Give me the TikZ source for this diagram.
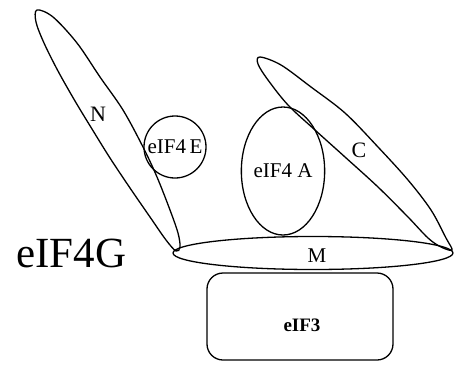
\documentclass[tikz,border=0pt]{standalone}
\usepackage{fontspec}
\setmainfont{Liberation Serif}
\usetikzlibrary{shapes.geometric}
\begin{document}
\begin{tikzpicture}[x=1pt,y=-1pt,
  outline/.style={draw=black, line width=1.3pt, inner sep=0pt},
  lbl/.style={font=\fontsize{21}{21}\selectfont, inner sep=0pt},
  biglbl/.style={font=\fontsize{43}{43}\selectfont, inner sep=0pt}]
\useasboundingbox[fill=white] (0,0) rectangle (456,365);
% N domain
\draw[outline, smooth cycle, tension=0.55] plot coordinates {
  (37,10) (53,17) (77,43) (100,77) (123,110) (143,147) (157,177) (170,210)
  (178,233) (180,247) (176,251) (166,240) (150,217) (130,188) (110,158)
  (92,129) (75,101) (58,71) (44,43) (36,22)};
\node[lbl, font=\fontsize{22}{22}\selectfont] (nlab) at (98,114) {N};
% eIF4E
\node[outline, circle, minimum size=62pt, lbl] (e4e) at (175,147) {eIF4\,E};
% eIF4A
\node[outline, ellipse, minimum width=72pt, minimum height=128pt, lbl] (e4a) at (283,171) {eIF4 A};
% C domain
\draw[outline, smooth cycle, tension=0.55] plot coordinates {
  (260,57) (281,65) (311,87) (345,113) (378,147) (408,180) (431,210)
  (446,238) (452,250) (441,247) (428,238) (408,217) (378,187) (345,157)
  (315,130) (288,105) (268,80) (258,64)};
\node[lbl, font=\fontsize{22}{22}\selectfont] (clab) at (359,150) {C};
% M domain
\node[outline, ellipse, minimum width=280pt, minimum height=33pt] (m) at (313,253) {};
\node[lbl] (mlab) at (317,256) {M};
% eIF3
\node[outline, rectangle, rounded corners=16pt, minimum width=186pt, minimum height=87pt] (e3) at (300,316.5) {};
\node[lbl, font=\bfseries\fontsize{19}{19}\selectfont] (e3lab) at (302,325) {eIF3};
% eIF4G label
\node[biglbl, anchor=base west] (g) at (16,267) {eIF4G};
\end{tikzpicture}
\end{document}
